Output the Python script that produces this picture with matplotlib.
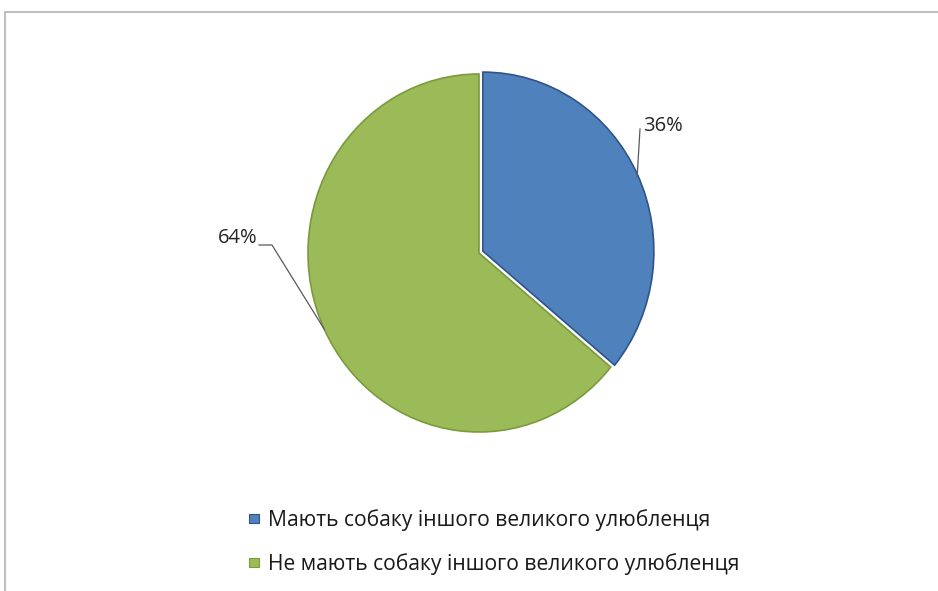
import numpy as np
import matplotlib
matplotlib.use('Agg')
import matplotlib.pyplot as plt
from matplotlib.patches import Rectangle

# --- Data ---
labels = ['Мають собаку іншого великого улюбленця',
          'Не мають собаку іншого великого улюбленця']
shares = [36, 64]
colors = ['#4F81BD', '#9BBB59']
edge_colors = ['#2F5487', '#7A9A3E']

plt.rcParams['font.family'] = ['Open Sans', 'DejaVu Sans']

W, H = 938, 591
fig = plt.figure(figsize=(W / 100, H / 100), dpi=100)

# outer frame (cropped at right and bottom)
fig.patches.append(Rectangle((5 / W, -0.1), 1.2, 1 - 12 / H + 0.1,
                             transform=fig.transFigure, fill=False,
                             edgecolor='#BFBFBF', linewidth=1.5))

# pie axes: centre (479, 253) px, slightly taller than wide as in the source
cx, cy, rx, ry = 479, 253, 171, 179
ax = fig.add_axes([(cx - rx) / W, 1 - (cy + ry) / H, 2 * rx / W, 2 * ry / H])
wedges, _ = ax.pie(shares, colors=colors, startangle=90, counterclock=False,
                   explode=[0.025, 0], radius=1)
for w, ec in zip(wedges, edge_colors):
    w.set_edgecolor(ec)
    w.set_linewidth(1.2)
ax.set_xlim(-1, 1)
ax.set_ylim(-1, 1)
ax.set_aspect('auto')
ax.axis('off')


def px(x, y):
    # pixel position -> data coords of the pie axes
    return (x - cx) / rx, (cy - y) / ry


# data labels with leader lines
mids = [np.deg2rad((w.theta1 + w.theta2) / 2) for w in wedges]
lc = '#595959'
tc = '#262626'

# 36%
a = mids[0]
x1, y1 = px(640, 129)
ax.plot([np.cos(a) + 0.02, x1], [np.sin(a), y1], color=lc, lw=0.9,
        clip_on=False)
tx, ty = px(643, 131)
ax.text(tx, ty, f'{shares[0]}%', ha='left', va='baseline', fontsize=14.5,
        color=tc)

# 64%
a = mids[1]
x1, y1 = px(272, 245)
x2, _ = px(259, 245)
ax.plot([np.cos(a), x1, x2], [np.sin(a), y1, y1], color=lc, lw=0.9,
        clip_on=False)
tx, ty = px(257, 243)
ax.text(tx, ty, f'{shares[1]}%', ha='right', va='baseline', fontsize=14.5,
        color=tc)

# legend
leg = fig.legend(wedges, labels, loc='upper left',
                 bbox_to_anchor=(230 / W, 1 - 490 / H), frameon=False,
                 fontsize=15.2, handlelength=0.45, handleheight=0.3,
                 handletextpad=0.45, labelspacing=1.05, labelcolor='#1a1a1a')
for h in leg.legend_handles:
    h.set_linewidth(0.8)

fig.savefig('out.png', dpi=100)
